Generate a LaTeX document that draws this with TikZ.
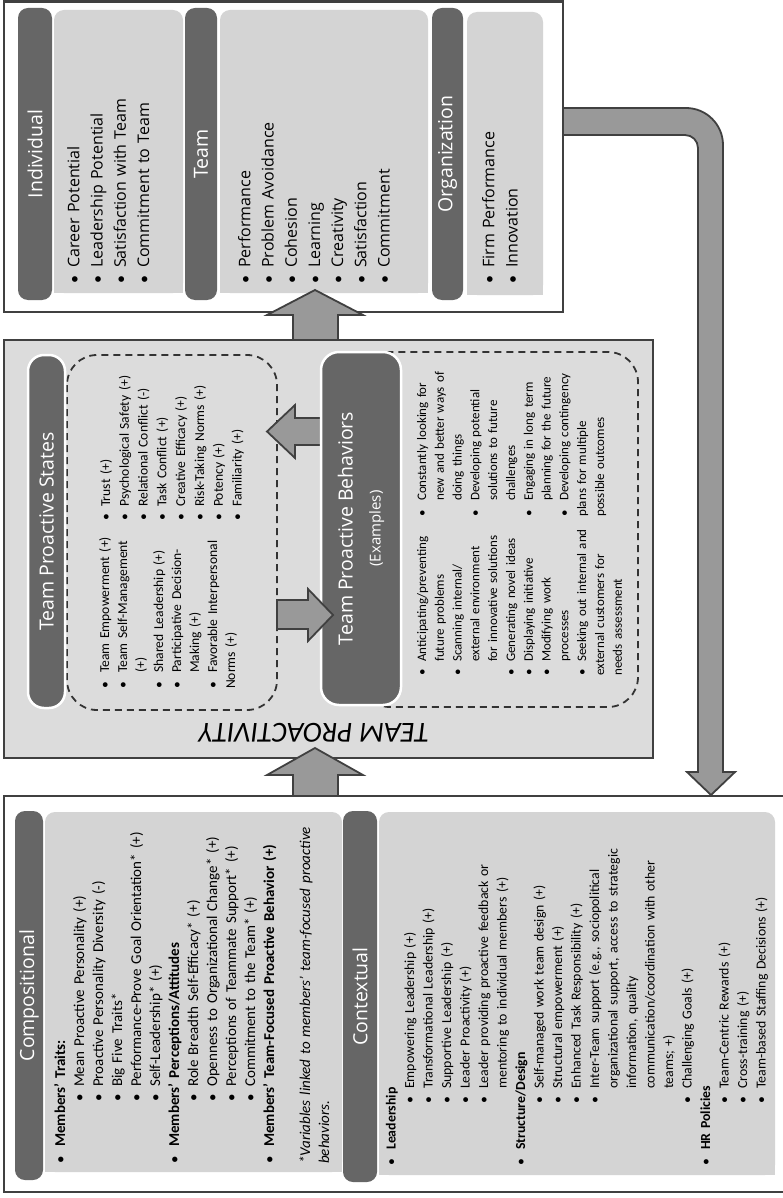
\documentclass[tikz,border=0pt]{standalone}
\usepackage{fontspec}
\setmainfont{Carlito}
\newfontfamily\headfont{Open Sans}
\newfontfamily\dotfont{Carlito}
\usetikzlibrary{positioning}

\definecolor{boxline}{HTML}{404040}
\definecolor{pillgray}{HTML}{666666}
\definecolor{panelgray}{HTML}{D4D4D4}
\definecolor{midgray}{HTML}{DCDCDC}
\definecolor{arrowgray}{HTML}{999999}
\definecolor{dashgray}{HTML}{333333}

% bullet items: \li top level, \lii second level
\newlength{\bgap}\setlength{\bgap}{16pt}
\newlength{\subind}\setlength{\subind}{62pt}
\newlength{\subgap}\setlength{\subgap}{15pt}
\newcommand{\li}[1]{\par\hangindent=\bgap\hangafter=1\noindent\makebox[\bgap][l]{\dotfont\textbullet}#1}
\newcommand{\lii}[1]{\par\hangindent=\dimexpr\subind+\subgap\relax\hangafter=1\noindent\hspace*{\subind}\makebox[\subgap][l]{\dotfont\textbullet}#1}
\newcommand{\panelfill}[4]{%
  \fill[panel, rounded corners=10pt] (#1,#2) rectangle (#3,#4);
  \fill[panel] (#1,#2+30) rectangle (#3,#4);}

\tikzset{
  outerbox/.style={draw=boxline, line width=2.5pt},
  panel/.style={fill=panelgray},
  pill/.style={fill=pillgray, rounded corners=10pt, text=white, rotate=90, inner sep=0pt,
    font=\headfont\fontsize{19.5}{24}\selectfont, align=center},
  midpill/.style={pill, draw=white, line width=2.5pt, rounded corners=16pt},
  bullets/.style={rotate=90, anchor=north west, inner sep=0pt, align=left, text width=#1},
  toplist/.style={bullets=270pt, font=\headfont\fontsize{16}{23.2}\selectfont},
  dashbox/.style={draw=dashgray, dash pattern=on 7pt off 5pt, line width=1.8pt, rounded corners=30pt},
  fatarrow/.style={fill=arrowgray, draw=boxline, line width=1.8pt, line join=miter}
}

\begin{document}
\begin{tikzpicture}[x=1pt, y=-1pt]
    \useasboundingbox (0,0) rectangle (782,1198);

    % outcomes
    \draw[outerbox, fill=white] (4,1.5) rectangle (563,312);
    \panelfill{54}{10}{183}{293}
    \panelfill{220}{10}{428}{293}
    \panelfill{467}{12}{543}{295}
    \node[pill, minimum width=292pt, minimum height=34pt] (indiv) at (35,154) {Individual};
    \node[pill, minimum width=292pt, minimum height=32pt] (team) at (201,154) {Team};
    \node[pill, minimum width=292pt, minimum height=31pt] (org) at (447.5,154) {Organization};
    \node[toplist] (indivlist) at (56,284)
        {\li{Career Potential}\li{Leadership Potential}\li{Satisfaction with Team}\li{Commitment to Team}};
    \node[toplist] (teamlist) at (227,284)
        {\li{Performance}\li{Problem Avoidance}\li{Cohesion}\li{Learning}\li{Creativity}\li{Satisfaction}\li{Commitment}};
    \node[toplist] (orglist) at (471,284)
        {\li{Firm Performance}\li{Innovation}};

    % team proactivity
    \draw[outerbox, fill=midgray] (4,340) rectangle (653,758);
    \draw[dashbox] (67,355) rectangle (277,710);
    \draw[dashbox] (360,352) rectangle (638,707);
    \draw[fatarrow] (330,418) -- (295,418) -- (295,405) -- (267,431.5) -- (295,458) -- (295,445) -- (330,445) -- cycle;
    \node[midpill, minimum width=353pt, minimum height=37pt] (states) at (46.5,531.5) {Team Proactive States};
    \node[midpill, minimum width=353pt, minimum height=80pt, rounded corners=18pt] (behav) at (361,528.5)
        {Team Proactive Behaviors\\[4pt]{\fontsize{15}{18}\selectfont(Examples)}};
    \node[bullets=180pt, font=\fontsize{13.6}{18}\selectfont] (statesA) at (91,689)
        {\li{Team Empowerment (+)}
         \li{Team Self-Management\newline (+)}
         \li{Shared Leadership (+)}
         \li{Participative Decision-\newline Making (+)}
         \li{Favorable Interpersonal\newline Norms (+)}};
    \node[bullets=170pt, font=\fontsize{13.6}{18.8}\selectfont] (statesB) at (91,521)
        {\setlength{\bgap}{14pt}%
         \li{Trust (+)}\li{Psychological Safety (+)}\li{Relational Conflict (-)}\li{Task Conflict (+)}
         \li{Creative Efficacy (+)}\li{Risk-Taking Norms (+)}\li{Potency (+)}\li{Familiarity (+)}};
    \node[bullets=175pt, font=\fontsize{13}{17.8}\selectfont] (behavA) at (408,676)
        {\setlength{\bgap}{14pt}%
         \li{Anticipating/preventing\newline future problems}
         \li{Scanning internal/\newline external environment\newline for innovative solutions}
         \li{Generating novel ideas}
         \li{Displaying initiative}
         \li{Modifying work\newline processes}
         \li{Seeking out internal and\newline external customers for\newline needs assessment}};
    \node[bullets=170pt, font=\fontsize{13}{17.8}\selectfont] (behavB) at (408,517)
        {\li{Constantly looking for\newline new and better ways of\newline doing things}
         \li{Developing potential\newline solutions to future\newline challenges}
         \li{Engaging in long term\newline planning for the future}
         \li{Developing contingency\newline plans for multiple\newline possible outcomes}};
    \draw[fatarrow] (277,600) -- (308,600) -- (308,589) -- (333,615) -- (308,641) -- (308,629) -- (277,629) -- cycle;
    \node[rotate=180, font=\itshape\fontsize{29}{30}\selectfont] (proact) at (314,733) {TEAM PROACTIVITY};

    % antecedents
    \draw[outerbox, fill=white] (4,796) rectangle (785,1192);
    \panelfill{45}{812}{342}{1172}
    \panelfill{379}{812}{775}{1175}
    \node[pill, minimum width=369pt, minimum height=28pt] (compo) at (29,995.5) {Compositional};
    \node[pill, minimum width=371pt, minimum height=34pt] (context) at (360,996.5) {Contextual};
    \node[bullets=350pt, font=\fontsize{15}{19}\selectfont] (compolist) at (46,1164)
        {\setlength{\bgap}{17pt}%
         \li{\textbf{Members’ Traits:}}
         \lii{Mean Proactive Personality (+)}
         \lii{Proactive Personality Diversity (-)}
         \lii{Big Five Traits*}
         \lii{Performance-Prove Goal Orientation* (+)}
         \lii{Self-Leadership* (+)}
         \li{\textbf{Members’ Perceptions/Attitudes}}
         \lii{Role Breadth Self-Efficacy* (+)}
         \lii{Openness to Organizational Change* (+)}
         \lii{Perceptions of Teammate Support* (+)}
         \lii{Commitment to the Team* (+)}
         \li{\textbf{Members’ Team-Focused Proactive Behavior (+)}}
         \par\vspace{17pt}\hangindent=11pt\hangafter=0\noindent
         \textit{*Variables linked to members’ team-focused proactive\newline behaviors.}};
    \node[bullets=350pt, font=\fontsize{13.8}{18.5}\selectfont] (contextlist) at (377,1166)
        {\li{\textbf{Leadership}}
         \lii{Empowering Leadership (+)}
         \lii{Transformational Leadership (+)}
         \lii{Supportive Leadership (+)}
         \lii{Leader Proactivity (+)}
         \lii{Leader providing proactive feedback or\newline mentoring to individual members (+)}
         \li{\textbf{Structure/Design}}
         \lii{Self-managed work team design (+)}
         \lii{Structural empowerment (+)}
         \lii{Enhanced Task Responsibility (+)}
         \lii{Inter-Team support (e.g., sociopolitical\newline organizational support, access to strategic\newline information, quality\newline communication/coordination with other\newline teams; +)}
         \lii{Challenging Goals (+)}
         \li{\textbf{HR Policies}}
         \lii{Team-Centric Rewards (+)}
         \lii{Cross-training (+)}
         \lii{Team-based Staffing Decisions (+)}};

    % arrows between the boxes
    \draw[fatarrow] (293,796) -- (293,775) -- (267,775) -- (315,748) -- (363,775) -- (338,775) -- (338,796) -- cycle;
    \draw[fatarrow] (293,340) -- (293,315) -- (267,315) -- (315,290) -- (363,315) -- (338,315) -- (338,340) -- cycle;
    \draw[fatarrow] (563,108) -- (686,108) .. controls (706.4,108) and (723,124.6) .. (723,145)
        -- (723,772) -- (735,772) -- (711,795) -- (687,772) -- (698,772)
        -- (698,148) .. controls (698,140.8) and (692.2,135) .. (685,135) -- (563,135) -- cycle;
\end{tikzpicture}
\end{document}
